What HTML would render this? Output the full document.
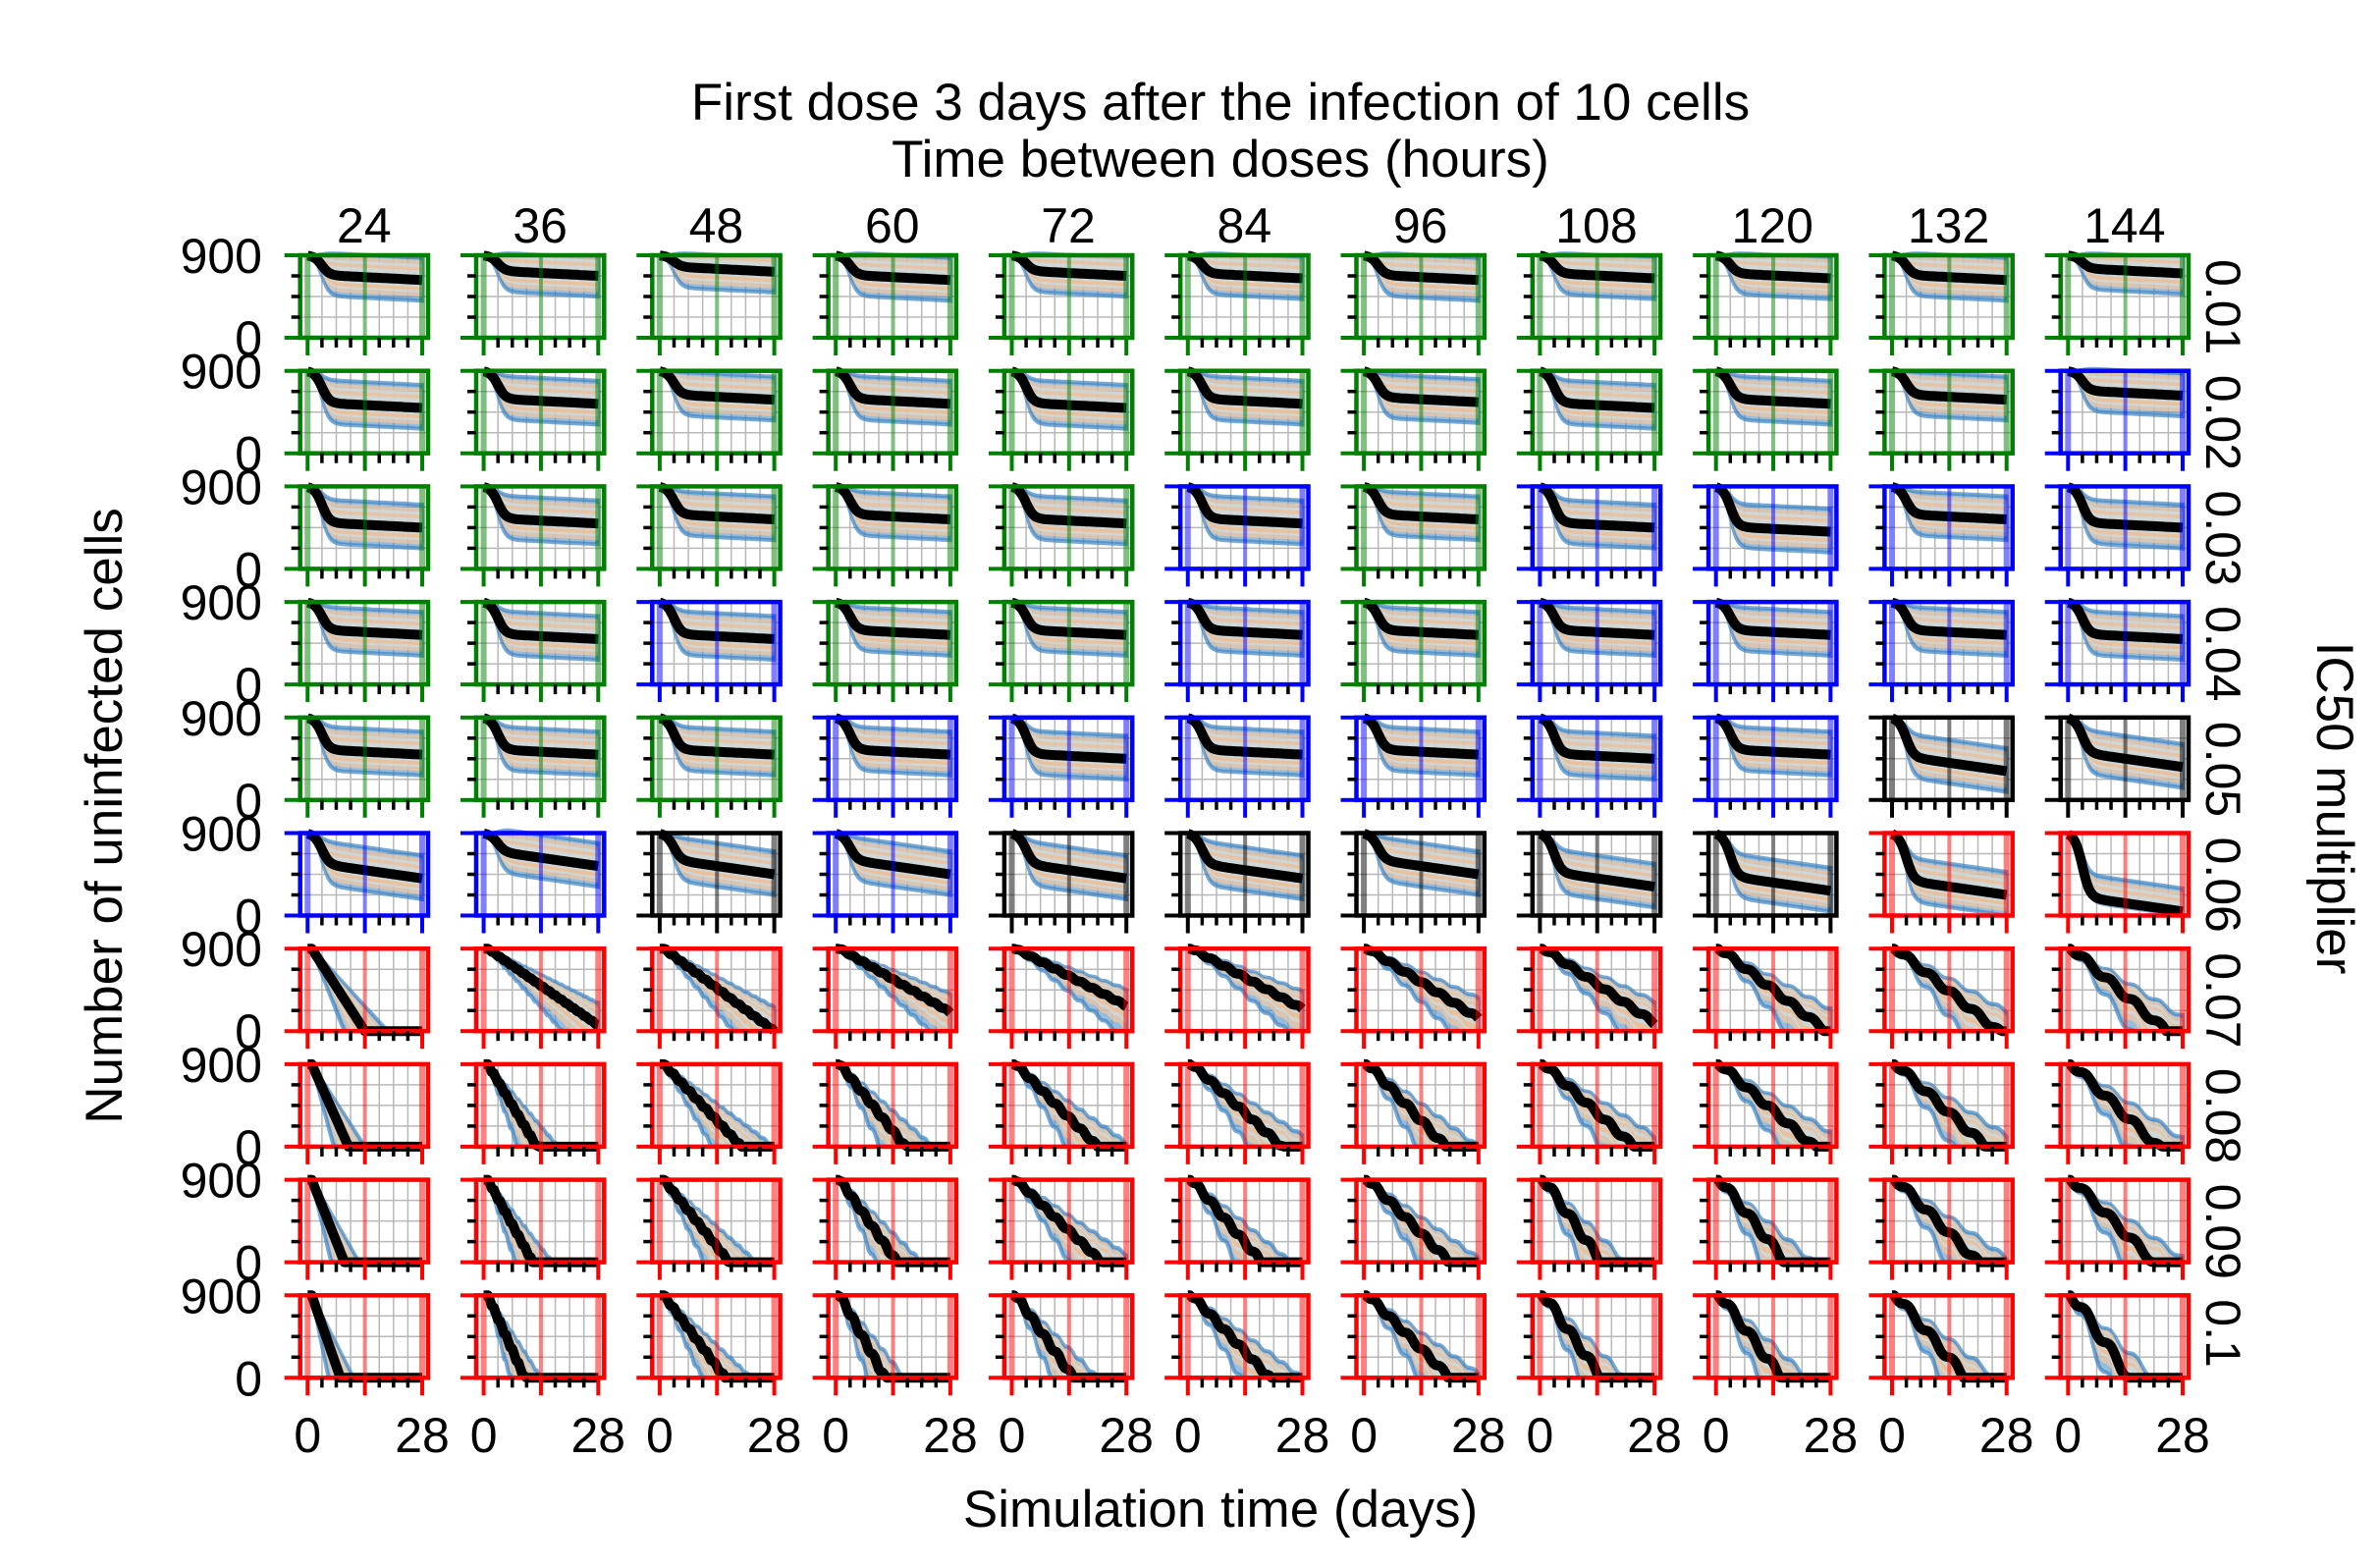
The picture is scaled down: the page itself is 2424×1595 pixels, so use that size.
<!DOCTYPE html>
<html><head><meta charset="utf-8"><style>
html,body{margin:0;padding:0;background:#fff;}
svg{display:block;font-family:"Liberation Sans",Arial,sans-serif;}
</style></head><body>
<svg id="s" width="2424" height="1595" viewBox="0 0 2424 1595" xmlns="http://www.w3.org/2000/svg">
<rect width="2424" height="1595" fill="#fff"/>
<text x="1243" y="122" font-size="53" text-anchor="middle">First dose 3 days after the infection of 10 cells</text>
<text x="1243" y="180" font-size="53" text-anchor="middle">Time between doses (hours)</text>
<text x="1243" y="1555" font-size="53" text-anchor="middle">Simulation time (days)</text>
<text x="124" y="831" font-size="53" text-anchor="middle" transform="rotate(-90 124 831)">Number of uninfected cells</text>
<text x="2360" y="823" font-size="53" text-anchor="middle" transform="rotate(90 2360 823)">IC50 multiplier</text>
<g id="g"></g>
</svg>
<script>
(function(){
var g=document.getElementById("g"),h="";
var cols=["24","36","48","60","72","84","96","108","120","132","144"];
var rows=["0.01","0.02","0.03","0.04","0.05","0.06","0.07","0.08","0.09","0.1"];
var C={G:"#008000",B:"#0000ff",K:"#000000",R:"#ff0000"};
var cm=["GGGGGGGGGGG","GGGGGGGGGGB","GGGGGBGBBBB","GGBGGBGBBBB","GGGBBBBBBKK","BBKBKKKKKRR","RRRRRRRRRRR","RRRRRRRRRRR","RRRRRRRRRRR","RRRRRRRRRRR"];
var lv=[[.7,.75,.8,.7,.75,.72,.7,.72,.72,.7,.78],[.55,.6,.65,.6,.55,.6,.62,.55,.6,.65,.7],[.5,.55,.6,.6,.55,.55,.6,.5,.45,.6,.5],[.6,.55,.55,.6,.6,.6,.6,.6,.6,.6,.55],[.55,.55,.55,.55,.5,.55,.55,.5,.55,.35,.4],[.45,.6,.5,.5,.45,.45,.5,.35,.3,.25,.05]];
var zt=[[14,30,28,36,40,38,33,31,27,26,24],[10,13,20,17,21,23,20,23,24,23,22],[9,12,17,15,22,18,21,15,17,21,21],[8,10,16,12,15,20,21,15,16,18,15]];
function plat(t,L,sl){var d=1/(1+Math.exp(-(t-3.5)*1.1));var e=1-(1-L-sl)*d;return Math.max(0,e-sl*t/28);}
function decl(t,T,P){if(t<1)return 1;var tt=t+0.35*P*Math.sin(2*Math.PI*t/P)/(2*Math.PI)*2.5;var v=1-(tt-1)/(T-1);return Math.max(0,Math.min(1,v));}
for(var r=0;r<10;r++)for(var c=0;c<11;c++){
 var L=305.7+179.3*c,T=260+117.7*r,B=T+84,R=L+130.3,x0=L+7.6,x1=L+124.3;
 var col=C[cm[r][c]];var P=(+cols[c])/24;
 var X=function(t){return x0+(x1-x0)*t/28;},Y=function(v){return B-(B-T)*v;};
 for(var k=1;k<8;k++){if(k==4)continue;var gx=X(k*3.5);h+='<line x1="'+gx+'" y1="'+T+'" x2="'+gx+'" y2="'+B+'" stroke="#b8b8b8" stroke-width="1.5"/>';}
 for(var k=1;k<4;k++){var gy=B-(B-T)*k/4;h+='<line x1="'+L+'" y1="'+gy+'" x2="'+R+'" y2="'+gy+'" stroke="#b8b8b8" stroke-width="1.5"/>';}
 var f;
 if(r<6){var l=lv[r][c];var sl=(r==5||(r==4&&c>8))?0.2:0.07;f=function(t,s){return plat(t,Math.max(0,Math.min(.97,l+s*0.28)),sl);};}
 else{var z=zt[r-6][c];f=function(t,s){return decl(t,z*(1+s*0.4),P);};}
 function band(s1,s2,fill,op,st){var p="";for(var i=0;i<=56;i++){var t=i/2;p+=(i?"L":"M")+X(t).toFixed(1)+","+Y(f(t,s1)).toFixed(1);}for(var i=56;i>=0;i--){var t=i/2;p+="L"+X(t).toFixed(1)+","+Y(f(t,s2)).toFixed(1);}h+='<path d="'+p+'Z" fill="'+fill+'" fill-opacity="'+op+'"'+(st?' stroke="'+st+'" stroke-width="4" stroke-opacity="0.7"':'')+'/>';}
 band(-0.9,1,"#3f85c2",.55,"#3f85c2");band(-0.72,0.85,"#f7c9a0",.7);band(-0.55,0.68,"#c9e3ef",.6);band(-0.45,-0.3,"#f5b884",.7);band(0.4,0.55,"#f5b884",.6);
 var p="";for(var i=0;i<=56;i++){var t=i/2;p+=(i?"L":"M")+X(t).toFixed(1)+","+Y(f(t,0)).toFixed(1);}
 h+='<path d="'+p+'" fill="none" stroke="#000" stroke-width="10" stroke-linejoin="round"/>';
 h+='<line x1="'+X(0)+'" y1="'+T+'" x2="'+X(0)+'" y2="'+B+'" stroke="'+col+'" stroke-opacity="0.5" stroke-width="6"/>';
 h+='<line x1="'+X(14)+'" y1="'+T+'" x2="'+X(14)+'" y2="'+B+'" stroke="'+col+'" stroke-opacity="0.5" stroke-width="4"/>';
 h+='<line x1="'+X(28)+'" y1="'+T+'" x2="'+X(28)+'" y2="'+B+'" stroke="'+col+'" stroke-opacity="0.5" stroke-width="6"/>';
 h+='<rect x="'+L+'" y="'+T+'" width="'+(R-L)+'" height="'+(B-T)+'" fill="none" stroke="'+col+'" stroke-width="4.5"/>';
 h+='<line x1="'+(L-16)+'" y1="'+T+'" x2="'+L+'" y2="'+T+'" stroke="'+col+'" stroke-width="4"/>';
 h+='<line x1="'+(L-16)+'" y1="'+B+'" x2="'+L+'" y2="'+B+'" stroke="'+col+'" stroke-width="4"/>';
 for(var k=1;k<4;k++){var yy=B-(B-T)*k/4;h+='<line x1="'+(L-9)+'" y1="'+yy+'" x2="'+L+'" y2="'+yy+'" stroke="#000" stroke-width="3.5"/>';}
 for(var k=0;k<=8;k++){var xx=X(k*3.5);if(k%4==0)h+='<line x1="'+xx+'" y1="'+B+'" x2="'+xx+'" y2="'+(B+18)+'" stroke="'+col+'" stroke-width="4"/>';else h+='<line x1="'+xx+'" y1="'+B+'" x2="'+xx+'" y2="'+(B+10)+'" stroke="#000" stroke-width="3.5"/>';}
 if(c==0){h+='<text x="267" y="'+(T+18)+'" font-size="50" text-anchor="end">900</text><text x="267" y="'+(B+18)+'" font-size="50" text-anchor="end">0</text>';}
 if(c==10){h+='<text x="2247" y="'+(T+4)+'" font-size="50" transform="rotate(90 2247 '+(T+4)+')">'+rows[r]+'</text>';}
 if(r==0){h+='<text x="'+((L+R)/2)+'" y="247" font-size="50" text-anchor="middle">'+cols[c]+'</text>';}
 if(r==9){h+='<text x="'+X(0)+'" y="1479" font-size="50" text-anchor="middle">0</text><text x="'+X(28)+'" y="1479" font-size="50" text-anchor="middle">28</text>';}
}
g.innerHTML=h;
})();
</script>
</body></html>
